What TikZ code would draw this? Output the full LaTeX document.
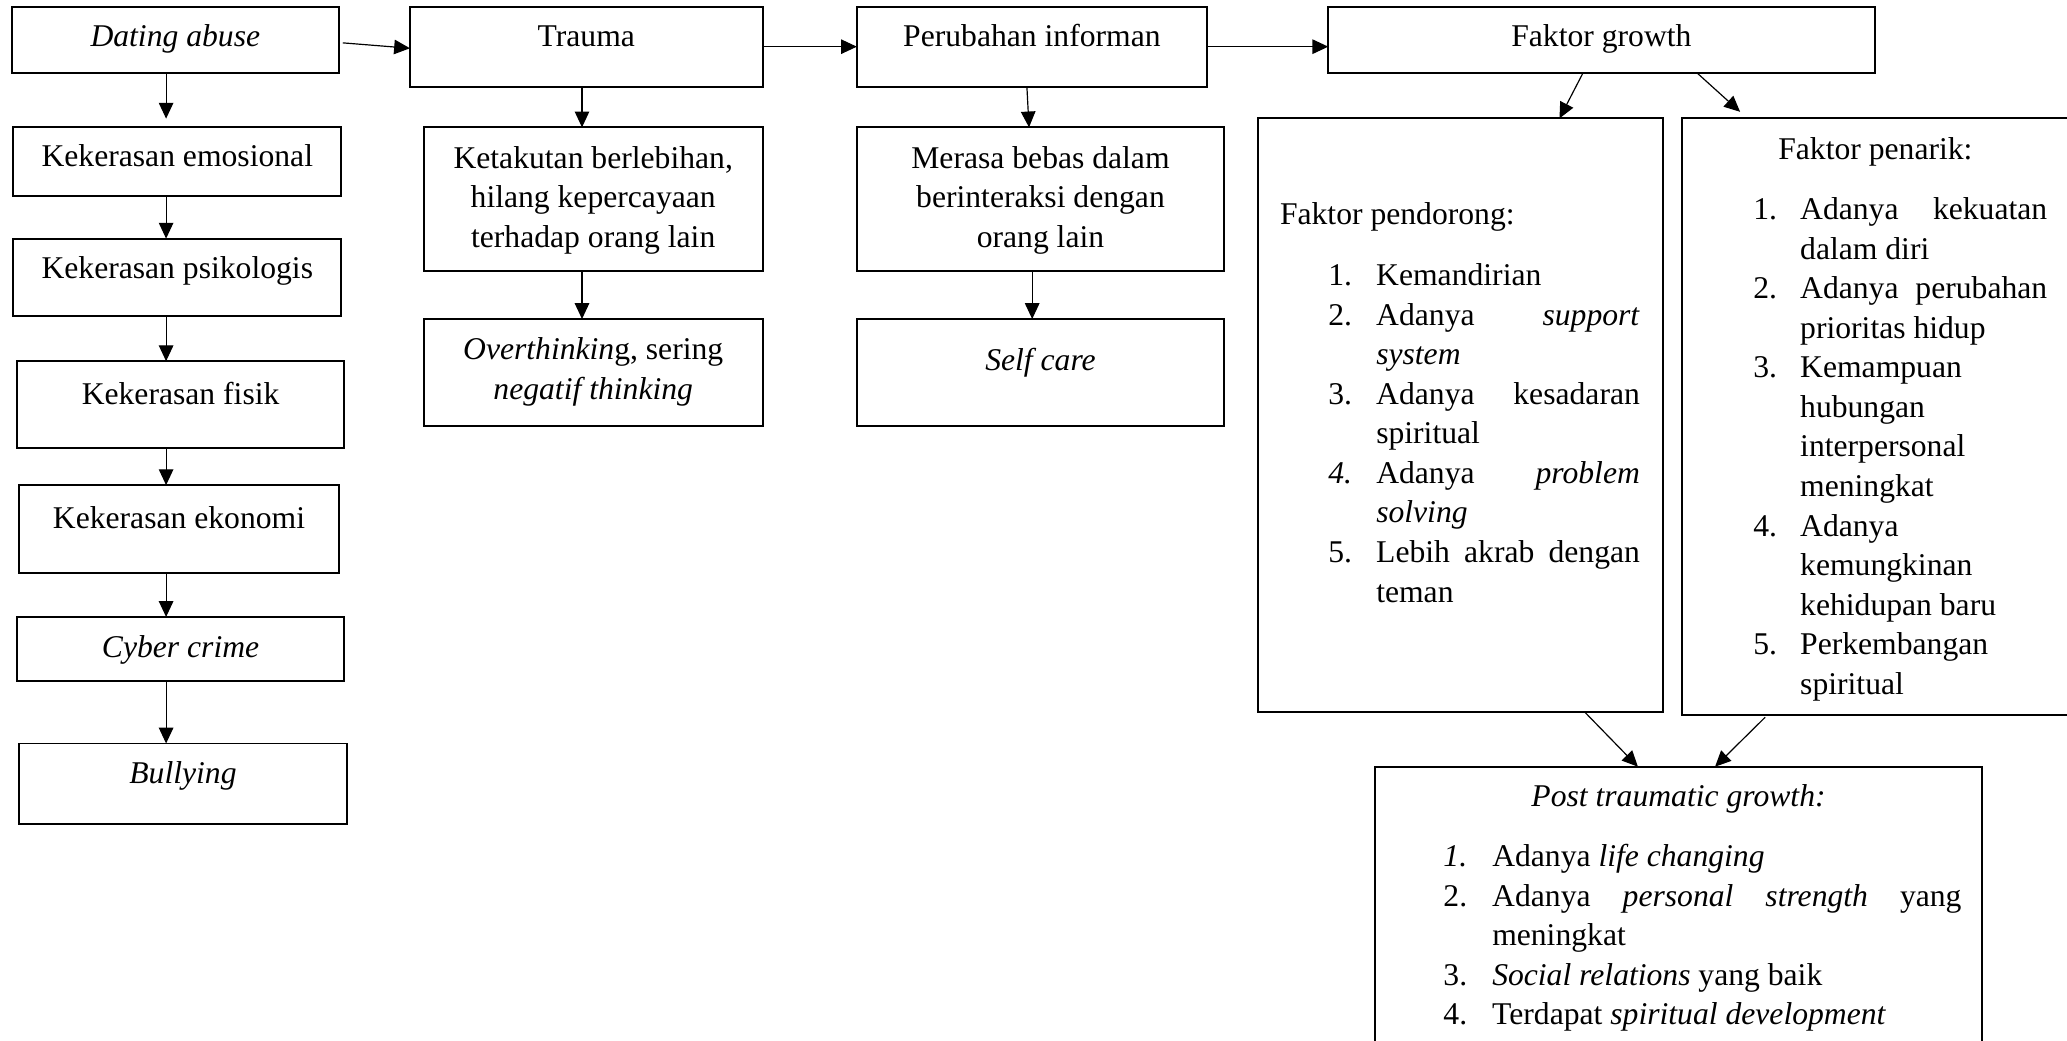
\documentclass[tikz,border=0pt]{standalone}
\usepackage{fontspec}
\setmainfont{Liberation Serif}
\usetikzlibrary{arrows.meta,calc}

% rectangular box from its top-left to its bottom-right corner
\newcommand{\boxnode}[5]{%
  \node[box, minimum width={(#4-#2)*0.5pt}, minimum height={(#5-#3)*0.5pt}] (#1) at (#2,#3) {};}
% stacked lines, centred; baseline of the whole block = first line
\newcommand{\ctrlines}[1]{\vtop{\halign{\hfil##\hfil\cr#1\crcr}}}
% stacked lines, flush left
\newcommand{\leftlines}[1]{\vtop{\halign{##\hfil\cr#1\crcr}}}
% hanging list number
\newcommand{\num}[2][18.2pt]{\llap{\makebox[#1][l]{#2}}}

\begin{document}
\begin{tikzpicture}[x=0.5pt,y=-0.5pt,
  box/.style={draw, line width=0.75pt, inner sep=0pt, outer sep=0pt, anchor=north west},
  txt/.style={inner sep=0pt, outer sep=0pt, anchor=base, font=\fontsize{12}{15}\selectfont},
  ltxt/.style={txt, anchor=base west},
  arr/.style={-{Triangle[length=6pt,width=5.5pt]}, line width=0.45pt}]

\useasboundingbox (0,0) rectangle (1568,789);
\clip (0,0) rectangle (1568,789);

% ---- first column: forms of abuse
\boxnode{da}{9}{5.5}{257}{55}
\boxnode{emo}{10}{96}{259}{149}
\boxnode{psi}{10}{181}{259}{240}
\boxnode{fis}{13}{274}{261}{340}
\boxnode{eko}{14.6}{368}{257}{435}
\boxnode{cyb}{13}{468}{261}{516.6}
\boxnode{bul}{14.6}{564}{263}{625}

\node[txt] (t-da)  at (133,35.4)   {\textit{Dating abuse}};
\node[txt] (t-emo) at (134.5,126.4) {Kekerasan emosional};
\node[txt] (t-psi) at (134.5,211)   {Kekerasan psikologis};
\node[txt] (t-fis) at (137,306.5)   {Kekerasan fisik};
\node[txt] (t-eko) at (135.8,401)   {Kekerasan ekonomi};
\node[txt] (t-cyb) at (137,498.6)   {\textit{Cyber crime}};
\node[txt] (t-bul) at (138.8,594.7) {\textit{Bullying}};

% ---- second column: trauma
\boxnode{tr}{311}{5.6}{578.5}{66}
\boxnode{kt}{321.6}{96.6}{578.5}{205.4}
\boxnode{ov}{321.6}{242}{578.5}{323}

\node[txt] (t-tr) at (444.75,35.4) {Trauma};
\node[txt] (t-kt) at (450,127.7) {\ctrlines{Ketakutan berlebihan,\cr hilang kepercayaan\cr terhadap orang lain}};
\node[txt] (t-ov) at (450,273) {\ctrlines{\textit{Overthinkin}g, sering\cr \textit{negatif thinking}}};

% ---- third column: change
\boxnode{pi}{650}{5.6}{915.6}{66}
\boxnode{mb}{650}{96.6}{928.6}{205.4}
\boxnode{sc}{650}{242}{928.6}{323}

\node[txt] (t-pi) at (782.8,35.4) {Perubahan informan};
\node[txt] (t-mb) at (789.3,127.7) {\ctrlines{Merasa bebas dalam\cr berinteraksi dengan\cr orang lain}};
\node[txt] (t-sc) at (789.3,281) {\textit{Self care}};

% ---- growth factors
\boxnode{fg}{1007.6}{5.6}{1422}{55}
\boxnode{pd}{954.5}{89.8}{1261.5}{540}
\boxnode{pn}{1276}{89.8}{1590}{542.6}
\boxnode{pt}{1043}{581.6}{1503.6}{800}

\node[txt] (t-fg) at (1214.8,35.4) {Faktor growth};

\node[ltxt] (t-pd-h) at (971,170.3) {Faktor pendorong:};
\node[ltxt] (t-pd) at (1044,216.7) {\leftlines{%
  \num{1.}Kemandirian\cr
  \num{2.}\hbox to 100pt{Adanya\hfill\textit{support}}\cr
  \textit{system}\cr
  \num{3.}\hbox to 100pt{Adanya\hfill kesadaran}\cr
  spiritual\cr
  \num{\textit{4.}}\hbox to 100pt{Adanya\hfill\textit{problem}}\cr
  \textit{solving}\cr
  \num{5.}\hbox to 100pt{Lebih\hfill akrab\hfill dengan}\cr
  teman}};

\node[ltxt] (t-pn-h) at (1349,120.8) {Faktor penarik:};
\node[ltxt] (t-pn) at (1365.6,166.6) {\leftlines{%
  \num[17.8pt]{1.}\hbox to 93.7pt{Adanya\hfill kekuatan}\cr
  dalam diri\cr
  \num[17.8pt]{2.}\hbox to 93.7pt{Adanya\hfill perubahan}\cr
  prioritas hidup\cr
  \num[17.8pt]{3.}Kemampuan\cr
  hubungan\cr
  interpersonal\cr
  meningkat\cr
  \num[17.8pt]{4.}Adanya\cr
  kemungkinan\cr
  kehidupan baru\cr
  \num[17.8pt]{5.}Perkembangan\cr
  spiritual}};

\node[txt] (t-pt-h) at (1273.3,612) {\textit{Post traumatic growth:}};
\node[ltxt] (t-pt) at (1132,657.4) {\leftlines{%
  \num[18.5pt]{\textit{1.}}Adanya \textit{life changing}\cr
  \num[18.5pt]{2.}\hbox to 178pt{Adanya\hfill\textit{personal}\hfill\textit{strength}\hfill yang}\cr
  meningkat\cr
  \num[18.5pt]{3.}\textit{Social relations} yang baik\cr
  \num[18.5pt]{4.}Terdapat \textit{spiritual development}}};

% ---- axes of the vertical connectors
\coordinate (ax1) at (126,0);
\coordinate (ax2) at (441.5,0);
\coordinate (ax3) at (783,0);

% ---- connectors
\draw[arr] ($(da.north east)+(3,27)$) -- ($(tr.north west)+(0,31)$);
\draw[arr] ($(tr.north east)+(0,29.8)$) -- ($(pi.north west)+(0,29.8)$);
\draw[arr] ($(pi.north east)+(0,29.8)$) -- ($(fg.north west)+(0,29.8)$);

\draw[arr, shorten >=3pt] (ax1 |- da.south) -- (ax1 |- emo.north);
\draw[arr] (ax1 |- emo.south) -- (ax1 |- psi.north);
\draw[arr] (ax1 |- psi.south) -- (ax1 |- fis.north);
\draw[arr] (ax1 |- fis.south) -- (ax1 |- eko.north);
\draw[arr] (ax1 |- eko.south) -- (ax1 |- cyb.north);
\draw[arr] (ax1 |- cyb.south) -- (ax1 |- bul.north);

\draw[arr] (ax2 |- tr.south) -- (ax2 |- kt.north);
\draw[arr] (ax2 |- kt.south) -- (ax2 |- ov.north);

\draw[arr] ($(pi.south west)+(129,0)$) -- ($(mb.north west)+(130.6,0)$);
\draw[arr] (ax3 |- mb.south) -- (ax3 |- sc.north);

\draw[arr] ($(fg.south west)+(193.4,0)$) -- ($(pd.north west)+(228.5,0)$);
\draw[arr] ($(fg.south west)+(279.4,0)$) -- ($(pn.north west)+(44,-5)$);

\draw[arr] ($(pd.south west)+(247.5,0)$) -- ($(pt.north west)+(199.5,0)$);
\draw[arr] ($(pn.south west)+(63,1.5)$) -- ($(pt.north west)+(258,0)$);
\end{tikzpicture}
\end{document}
